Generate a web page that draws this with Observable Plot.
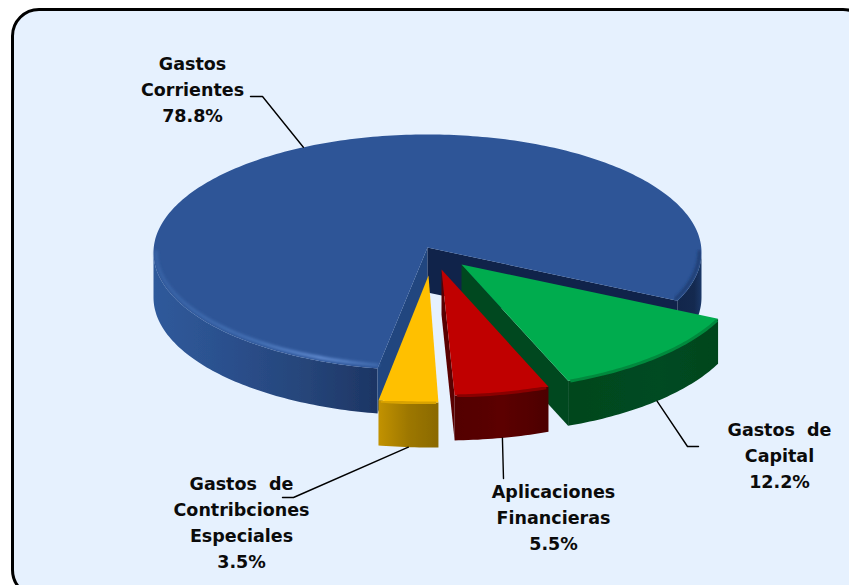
<!DOCTYPE html>
<html>
<head>
<meta charset="utf-8">
<script src="https://cdn.jsdelivr.net/npm/d3@7"></script>
<script src="https://cdn.jsdelivr.net/npm/@observablehq/plot@0.6"></script>
<style>
  html, body { margin: 0; padding: 0; background: #fff; }
  #stage { position: relative; width: 849px; height: 585px; overflow: hidden; }
  #panel { position: absolute; left: 11px; top: 8px; width: 860px; height: 590px;
           box-sizing: border-box; border: 3px solid #000; border-radius: 28px; background: #e6f1fe; }
  #chart { position: absolute; left: 0; top: 0; }
  #chart svg { display: block; background: transparent; }
</style>
</head>
<body>
<div id="stage"><div id="panel"></div><div id="chart"></div></div>
<script>
// ---- data ----
const categories = ["Gastos Corrientes", "Gastos de Capital", "Aplicaciones Financieras", "Gastos de Contribciones Especiales"];
const shares = [78.8, 12.2, 5.5, 3.5];
const labelLines = [
  ["Gastos", "Corrientes"],
  ["Gastos  de", "Capital"],
  ["Aplicaciones", "Financieras"],
  ["Gastos  de", "Contribciones", "Especiales"]
];

// ---- layout of the 3D projection ----
const W = 849, H = 585;
const DEPTH = 45, CENTER_DROP = 5;
const START = 24.2;                     // angle where "Gastos de Capital" begins
const clockwiseOrder = [1, 2, 3, 0];    // order of slices going clockwise from START
const apex = [
  {x: 427, y: 247, rx: 274, ry: 118, dx: 0},
  {x: 461, y: 264, rx: 278, ry: 120, dx: 3},
  {x: 441, y: 269, rx: 279, ry: 121, dx: 3},
  {x: 428, y: 275, rx: 274, ry: 122, dx: 0}
];
const leaderShape = [
  {nudge: 0.7, drop: 0,  elbow: [262, 96],  tail: [250, 96]},
  {nudge: 0,   drop: 45, elbow: [687, 446], tail: [698, 446]},
  {nudge: 0,   drop: 45, elbow: [503, 478], tail: null},
  {nudge: 0,   drop: 45, elbow: [293, 497], tail: [282, 497]}
];
const labelAt = [
  {x: 192, y: 87},
  {x: 779, y: 453},
  {x: 553, y: 515},
  {x: 241, y: 520}
];

// ---- geometry derived from the shares ----
const angles = [];
let running = START;
for (const i of clockwiseOrder) {
  angles[i] = {a0: running, a1: running + shares[i] * 3.6};
  running = angles[i].a1;
}
const rad = d => d * Math.PI / 180;
const rimPoint = (i, a, drop = 0, inset = 0) => [
  apex[i].x + apex[i].dx + (apex[i].rx - inset) * Math.cos(rad(a)),
  apex[i].y + CENTER_DROP + (apex[i].ry - inset) * Math.sin(rad(a)) + drop
];
const rimArc = (i, a0, a1, drop = 0, inset = 0) => {
  const pts = d3.range(a0, a1, 1).map(a => rimPoint(i, a, drop, inset));
  pts.push(rimPoint(i, a1, drop, inset));
  return pts;
};
const topFace = (i, a0, a1) => [[apex[i].x, apex[i].y], ...rimArc(i, a0, a1)];
const sideFace = (i, a0, a1) => [...rimArc(i, a0, a1), ...rimArc(i, a0, a1, DEPTH).reverse()];
const wallFace = (i, a) => [[apex[i].x, apex[i].y], rimPoint(i, a), rimPoint(i, a, DEPTH), [apex[i].x, apex[i].y + DEPTH]];

const blurred = id => (index, scales, values, dims, ctx, next) => {
  const g = next(index, scales, values, dims, ctx);
  g.setAttribute("filter", `url(#${id})`);
  return g;
};
const poly = (pts, fill, extra = {}) =>
  Plot.line(pts, {x: d => d[0], y: d => d[1], fill, stroke: "none", ...extra});
const edge = (pts, stroke, strokeWidth, extra = {}) =>
  Plot.line(pts, {x: d => d[0], y: d => d[1], stroke, strokeWidth, ...extra});

const defs = () => {
  const gradient = (id, stops) =>
    `<linearGradient id="${id}" x1="0" x2="1" y1="0" y2="0">` +
    stops.map(([o, c]) => `<stop offset="${o}" stop-color="${c}"/>`).join("") + `</linearGradient>`;
  const node = document.createElementNS("http://www.w3.org/2000/svg", "defs");
  node.innerHTML =
    gradient("blueSide", [[0, "#2f5a9b"], [0.35, "#2b4f8c"], [0.7, "#254478"], [1, "#1d3564"]]) +
    gradient("blueSideRight", [[0, "#12264b"], [0.7, "#14294f"], [1, "#1b3868"]]) +
    gradient("blueRim", [[0, "#3a66a9"], [0.45, "#4a78bd"], [0.75, "#6f9ae0"], [1, "#4470b4"]]) +
    gradient("greenSide", [[0, "#00461e"], [0.6, "#004b21"], [1, "#00451e"]]) +
    gradient("redSide", [[0, "#520000"], [0.5, "#5c0000"], [1, "#4d0000"]]) +
    gradient("yellowSide", [[0, "#c29200"], [0.5, "#9d7700"], [1, "#8a6900"]]) +
    `<filter id="soft" x="-5%" y="-5%" width="110%" height="110%"><feGaussianBlur stdDeviation="1.4"/></filter>` +
    `<filter id="softer" x="-5%" y="-5%" width="110%" height="110%"><feGaussianBlur stdDeviation="0.6"/></filter>`;
  return node;
};

const [B, G, Rd, Y] = [0, 1, 2, 3];
const aB = angles[B], aG = angles[G], aR = angles[Rd], aY = angles[Y];

const sliceMarks = (i, topFill, sideFill, wallFill, rimColor, wallAngle) => [
  ...(wallAngle == null ? [] : [poly(wallFace(i, wallAngle), wallFill)]),
  poly(sideFace(i, angles[i].a0, angles[i].a1), sideFill, {render: blurred("softer")}),
  poly(topFace(i, angles[i].a0, angles[i].a1), topFill),
  edge(rimArc(i, angles[i].a0 + 0.5, angles[i].a1 - 0.5, 0.5), rimColor, 3, {strokeLinecap: "butt", render: blurred("softer")})
];

// ---- leaders and labels ----
const leaders = shares.map((_, i) => {
  const mid = (angles[i].a0 + angles[i].a1) / 2;
  const from = rimPoint(i, mid + leaderShape[i].nudge, leaderShape[i].drop);
  return [from, leaderShape[i].elbow, ...(leaderShape[i].tail ? [leaderShape[i].tail] : [])];
});
const labels = categories.map((name, i) => ({
  text: [...labelLines[i], `${shares[i].toFixed(1)}%`].join("\n").replace(/  /g, "\u00a0\u00a0"),
  x: labelAt[i].x,
  y: labelAt[i].y
}));

const chart = Plot.plot({
  width: W, height: H, margin: 0,
  x: {domain: [0, W], range: [0, W], axis: null},
  y: {domain: [0, H], range: [0, H], axis: null},
  style: {background: "transparent"},
  marks: [
    defs,
    // main slice: outer side, cut walls, top, bevel
    poly(sideFace(B, 0, aB.a1 - 360), "url(#blueSideRight)"),
    poly(sideFace(B, aB.a0, 180), "url(#blueSide)", {render: blurred("softer")}),
    poly(wallFace(B, aB.a0), "#21467f"),
    poly(wallFace(B, aB.a1), "#10234a"),
    poly(topFace(B, aB.a0, aB.a1), "#2e5597"),
    edge(rimArc(B, aB.a0, 180, -1, 2.5), "url(#blueRim)", 2.6, {render: blurred("soft")}),
    edge(rimArc(B, 0, aB.a1 - 360, -1, 2), "#1c3a6e", 3, {render: blurred("soft")}),
    // exploded slices, back to front
    ...sliceMarks(G, "#00ac4e", "url(#greenSide)", "#00481f", "#008a3e", aG.a1),
    ...sliceMarks(Rd, "#c00000", "url(#redSide)", "#5a0000", "#8a0000", aR.a1),
    ...sliceMarks(Y, "#ffc000", "url(#yellowSide)", null, "#d9a300", null),
    // leaders
    ...leaders.map(pts => edge(pts, "#000", 1.4)),
    // labels
    Plot.text(labels, {
      x: "x", y: "y", text: "text",
      fontFamily: "DejaVu Sans", fontWeight: "bold", fontSize: 17.5,
      lineHeight: 1.486, fill: "#0b0b0b", textAnchor: "middle", lineAnchor: "middle"
    })
  ]
});
document.getElementById("chart").append(chart);
</script>
</body>
</html>
